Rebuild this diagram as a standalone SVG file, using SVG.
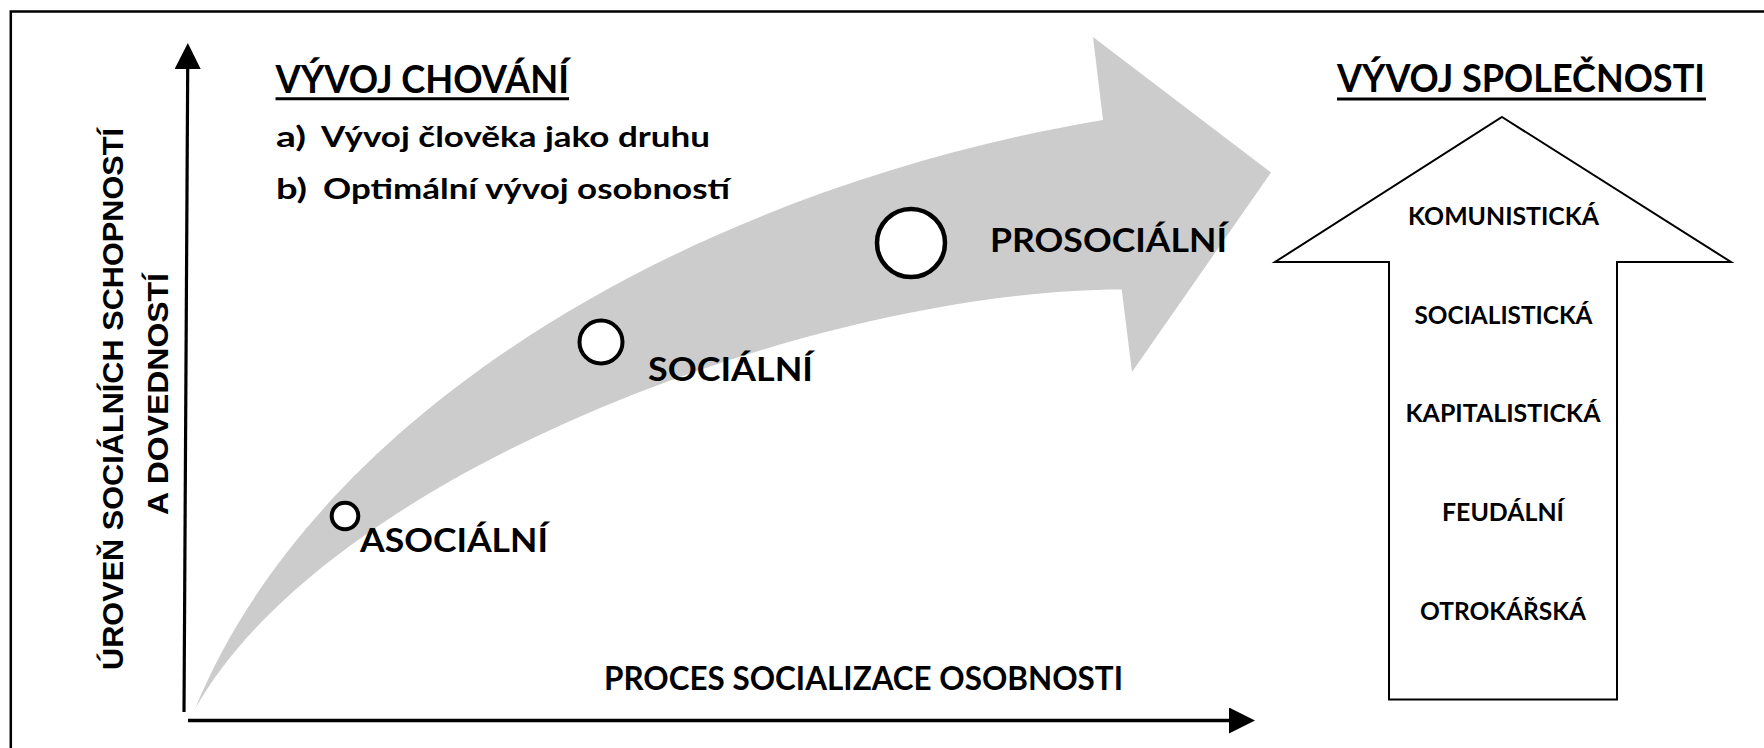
<svg xmlns="http://www.w3.org/2000/svg" width="1764" height="748" viewBox="0 0 1764 748">
  <style>
    .t { font-family: Lato, "Open Sans", "Liberation Sans", sans-serif; font-weight: 700; fill: #000; }
    .v { font-family: "Liberation Sans", Arial, sans-serif; font-weight: 700; fill: #000; }
    .ax { stroke: #000; fill: none; }
    .circ { fill: #fff; stroke: #000; }
  </style>
  <defs>
    <marker id="ah" markerUnits="userSpaceOnUse" markerWidth="26" markerHeight="26" refX="0" refY="13" orient="auto">
      <path d="M0,0 L26,13 L0,26 Z" fill="#000"/>
    </marker>
  </defs>
  <rect width="1764" height="748" fill="#fff"/>
  <path d="M10.8,760 V11.5 H1775" fill="none" stroke="#000" stroke-width="2.5"/>

  <g id="curved-arrow">
    <path d="M195,709 C320,405 700,188 1103,120 L1093,37 L1271,172.5 L1132,372 L1121.7,289.5 C820,290 330,470 195,709 Z" fill="#cccccc"/>
  </g>

  <g id="connectors">
    <line class="ax" x1="184" y1="712" x2="187.7" y2="69" stroke-width="3.2" marker-end="url(#ah)"/>
    <line class="ax" x1="188" y1="720.5" x2="1229" y2="720.5" stroke-width="3.6" marker-end="url(#ah)"/>
  </g>

  <g id="y-axis-label">
    <text class="v" font-size="30" text-anchor="middle" transform="translate(123,399) rotate(-90)" textLength="542" lengthAdjust="spacingAndGlyphs">ÚROVEŇ SOCIÁLNÍCH SCHOPNOSTÍ</text>
    <text class="v" font-size="30" text-anchor="middle" transform="translate(168,394) rotate(-90)" textLength="242" lengthAdjust="spacingAndGlyphs">A DOVEDNOSTÍ</text>
  </g>

  <g id="x-axis-label">
    <text class="t" x="604" y="690" font-size="31.5" textLength="519" lengthAdjust="spacingAndGlyphs">PROCES SOCIALIZACE OSOBNOSTI</text>
  </g>

  <g id="title-behavior">
    <text class="t" x="275.5" y="93" font-size="38" textLength="293.5" lengthAdjust="spacingAndGlyphs">VÝVOJ CHOVÁNÍ</text>
    <line x1="275.5" y1="98.7" x2="569" y2="98.7" stroke="#000" stroke-width="3"/>
    <text class="t" y="147" font-size="28"><tspan x="276" textLength="30" lengthAdjust="spacingAndGlyphs">a)</tspan><tspan x="321" textLength="389" lengthAdjust="spacingAndGlyphs">Vývoj člověka jako druhu</tspan></text>
    <text class="t" y="199" font-size="28"><tspan x="276" textLength="31" lengthAdjust="spacingAndGlyphs">b)</tspan><tspan x="323" textLength="407" lengthAdjust="spacingAndGlyphs">Optimální vývoj osobností</tspan></text>
  </g>

  <g id="node-asocialni">
    <circle class="circ" cx="345" cy="516" r="13.3" stroke-width="4"/>
    <text class="t" x="360" y="552" font-size="32" textLength="188" lengthAdjust="spacingAndGlyphs">ASOCIÁLNÍ</text>
  </g>
  <g id="node-socialni">
    <circle class="circ" cx="601" cy="342" r="21.5" stroke-width="4"/>
    <text class="t" x="648" y="381" font-size="32" textLength="165" lengthAdjust="spacingAndGlyphs">SOCIÁLNÍ</text>
  </g>
  <g id="node-prosocialni">
    <circle class="circ" cx="911" cy="243" r="34" stroke-width="4.5"/>
    <text class="t" x="990" y="251.5" font-size="32" textLength="237" lengthAdjust="spacingAndGlyphs">PROSOCIÁLNÍ</text>
  </g>

  <g id="title-society">
    <text class="t" x="1337" y="92" font-size="38" textLength="368" lengthAdjust="spacingAndGlyphs">VÝVOJ SPOLEČNOSTI</text>
    <line x1="1337" y1="99" x2="1706" y2="99" stroke="#000" stroke-width="3"/>
  </g>

  <g id="society-arrow">
    <path d="M1502,117 L1731,262 L1617,262 L1617,699.5 L1389,699.5 L1389,262 L1275,262 Z" fill="#fff" stroke="#000" stroke-width="2"/>
    <text class="t" x="1503.5" y="225" font-size="25.5" text-anchor="middle" textLength="191" lengthAdjust="spacingAndGlyphs">KOMUNISTICKÁ</text>
    <text class="t" x="1503.5" y="323.5" font-size="25.5" text-anchor="middle" textLength="178" lengthAdjust="spacingAndGlyphs">SOCIALISTICKÁ</text>
    <text class="t" x="1503" y="422" font-size="25.5" text-anchor="middle" textLength="195" lengthAdjust="spacingAndGlyphs">KAPITALISTICKÁ</text>
    <text class="t" x="1503" y="521" font-size="25.5" text-anchor="middle" textLength="122" lengthAdjust="spacingAndGlyphs">FEUDÁLNÍ</text>
    <text class="t" x="1503" y="619.5" font-size="25.5" text-anchor="middle" textLength="166" lengthAdjust="spacingAndGlyphs">OTROKÁŘSKÁ</text>
  </g>
</svg>
